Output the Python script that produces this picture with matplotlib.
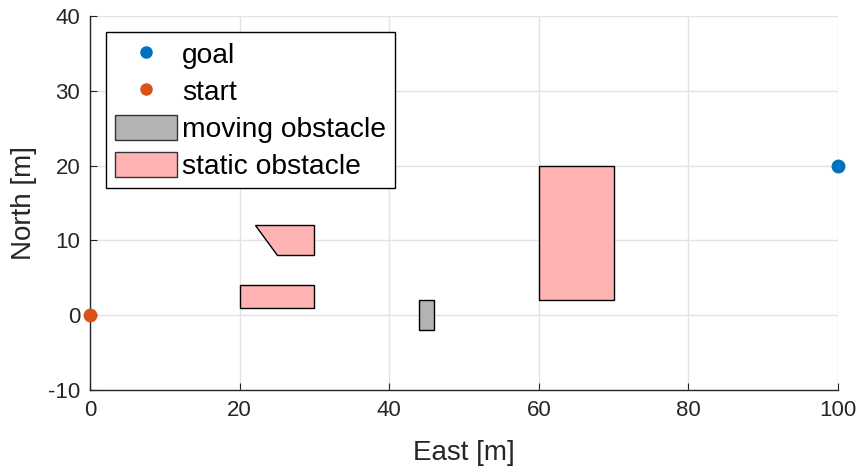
import matplotlib
matplotlib.use("Agg")
import matplotlib.pyplot as plt
from matplotlib.patches import Polygon, Patch
from matplotlib.lines import Line2D

# Scenario data
goal = (100, 20)
start = (0, 0)
static_obstacles = [
    [(20, 1), (30, 1), (30, 4), (20, 4)],
    [(22, 12), (30, 12), (30, 8), (25, 8)],
    [(60, 2), (70, 2), (70, 20), (60, 20)],
]
moving_obstacles = [
    [(44, -2), (46, -2), (46, 2), (44, 2)],
]
x_ticks = [0, 20, 40, 60, 80, 100]
y_ticks = [-10, 0, 10, 20, 30, 40]

goal_color = "#0072BD"
start_color = "#D95319"
static_color = "#FFB3B3"
moving_color = "#B3B3B3"

plt.rcParams["font.family"] = ["Liberation Sans", "DejaVu Sans"]
plt.rcParams["axes.unicode_minus"] = False

fig = plt.figure(figsize=(8.6, 4.76), dpi=100)
ax = fig.add_axes([0.1047, 0.1807, 0.8697, 0.7857])

for verts in static_obstacles:
    ax.add_patch(Polygon(verts, closed=True, facecolor=static_color,
                         edgecolor="black", linewidth=1.0, zorder=3))
for verts in moving_obstacles:
    ax.add_patch(Polygon(verts, closed=True, facecolor=moving_color,
                         edgecolor="black", linewidth=1.0, zorder=3))

ax.plot(*goal, "o", color=goal_color, markersize=9, zorder=5, clip_on=False)
ax.plot(*start, "o", color=start_color, markersize=9, zorder=5, clip_on=False)

ax.set_xlim(0, 100)
ax.set_ylim(-10, 40)
ax.set_xticks(x_ticks)
ax.set_yticks(y_ticks)
ax.grid(True, color="#e3e3e3", linewidth=1.0)
ax.set_axisbelow(True)
for s in ("top", "right"):
    ax.spines[s].set_visible(False)
for s in ("left", "bottom"):
    ax.spines[s].set_color("#262626")
    ax.spines[s].set_linewidth(1.0)
ax.tick_params(direction="in", length=5, labelsize=16, colors="#262626",
               labelcolor="#262626", pad=7)
ax.set_xlabel("East [m]", fontsize=20, color="#262626", labelpad=14)
ax.set_ylabel("North [m]", fontsize=20, color="#262626", labelpad=8)

handles = [
    Line2D([], [], marker="o", linestyle="none", color=goal_color, markersize=8),
    Line2D([], [], marker="o", linestyle="none", color=start_color, markersize=8),
    Patch(facecolor=moving_color, edgecolor="#333333", linewidth=1.0),
    Patch(facecolor=static_color, edgecolor="#333333", linewidth=1.0),
]
labels = ["goal", "start", "moving obstacle", "static obstacle"]
leg = ax.legend(handles, labels, loc="upper left", bbox_to_anchor=(0.0214, 0.957),
                frameon=True, fancybox=False, edgecolor="black", framealpha=1,
                borderpad=0.3, labelspacing=0.31, handlelength=2.2, handleheight=1.0,
                handletextpad=0.2, borderaxespad=0,
                prop={"size": 20.3})
leg.get_frame().set_linewidth(1.0)

fig.savefig("out.png", dpi=100)
